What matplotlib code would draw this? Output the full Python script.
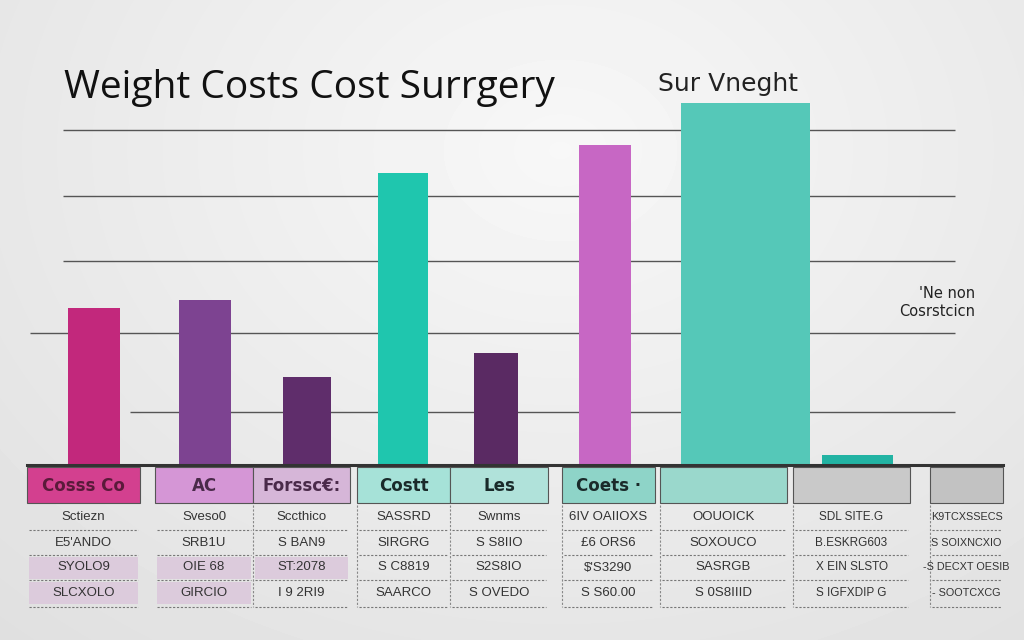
import numpy as np
import matplotlib.pyplot as plt
from matplotlib.patches import Rectangle

# bar data (cost values), category slots and colours
bar_values = [4700, 4950, 2650, 8750, 3350, 9600, 10850, 300]
bar_pos = [94, 205, 307, 403, 496, 605, 745.5, 857.5]
bar_width = [52, 52, 48, 50, 44, 52, 129, 71]
bar_colors = ['#c2287c', '#7d4391', '#5f2d6b', '#1fc6ae', '#5a2a63',
              '#c767c4', '#55c8b8', '#22b3a3']
grid_values = [1590, 3960, 6120, 8070, 10050]

# table contents
headers = ['Cosss Co', 'AC', 'Forssc€:', 'Costt', 'Les', 'Coets ·', '', '', '']
rows = [
    ['Sctiezn', 'Sveso0', 'Sccthico', 'SASSRD', 'Swnms', '6IV OAIIOXS', 'OOUOICK', 'SDL SITE.G', 'K9TCXSSECS'],
    ['E5\'ANDO', 'SRB1U', 'S BAN9', 'SIRGRG', 'S S8IIO', '£6 ORS6', 'SOXOUCO', 'B.ESKRG603', 'S SOIXNCXIO'],
    ['SYOLO9', 'OIE 68', 'ST:2078', 'S C8819', 'S2S8IO', '$\'S3290', 'SASRGB', 'X EIN SLSTO', '-S DECXT OESIB'],
    ['SLCXOLO', 'GIRCIO', 'I 9 2RI9', 'SAARCO', 'S OVEDO', 'S S60.00', 'S 0S8IIID', 'S IGFXDIP G', '- SOOTCXCG'],
]
col_left = [27, 155, 253, 357, 450, 562, 660, 793, 930]
col_right = [140, 253, 350, 450, 548, 655, 787, 910, 1003]
head_colors = ['#d3408f', '#d596d6', '#d6b6d8', '#a6e2d8', '#b0e2da',
               '#8ed4c8', '#9ad8cc', '#c9c9c9', '#c2c2c2']
head_text = ['#5a1a3a', '#4a2a4a', '#4a2a4a', '#1a2a2a', '#1a2a2a',
             '#1a2a2a', '#1a2a2a', '#333333', '#333333']

fig = plt.figure(figsize=(10.24, 6.4), dpi=100)

# background gradient
bg = fig.add_axes([0, 0, 1, 1], zorder=-2)
yy, xx = np.mgrid[0:640, 0:1024]
r = np.sqrt(((xx - 560) / 900) ** 2 + ((yy - 150) / 700) ** 2)
bg.imshow(0.97 - 0.1 * r, cmap='gray', vmin=0, vmax=1, aspect='auto')
bg.axis('off')

# overlay in pixel coordinates for table and texts
ov = fig.add_axes([0, 0, 1, 1], zorder=1)
ov.set_xlim(0, 1024)
ov.set_ylim(640, 0)
ov.axis('off')

# bars
ax = fig.add_axes([0, 175 / 640, 1, 405 / 640], zorder=0)
ax.set_xlim(0, 1024)
ax.set_ylim(0, 12150)
ax.patch.set_alpha(0)
ax.axis('off')
for g in grid_values:
    x0 = 30 if g == 3960 else 63
    if g == 1590:
        x0 = 130
    ax.hlines(g, x0, 955, color='#555555', lw=1, zorder=0)
ax.bar(bar_pos, bar_values, width=bar_width, color=bar_colors, zorder=2)

# title and side texts
ov.text(64, 88, 'Weight Costs Cost Surrgery', fontsize=28, family='Open Sans',
        color='#111111', va='center', ha='left')
ov.text(658, 84, 'Sur Vneght', fontsize=18, family='DejaVu Sans',
        color='#222222', va='center', ha='left')
ov.text(975, 293, "'Ne non", fontsize=10.5, color='#222222', ha='right', va='center')
ov.text(975, 312, 'Cosrstcicn', fontsize=10.5, color='#222222', ha='right', va='center')

# table
ov.plot([27, 1003], [465, 465], color='#333333', lw=2.2)
row_y = [505, 530, 555, 580, 607]
for i in range(len(headers)):
    l, rgt = col_left[i], col_right[i]
    ov.add_patch(Rectangle((l, 467), rgt - l, 36, facecolor=head_colors[i],
                           edgecolor='#555555', lw=0.8))
    ov.text((l + rgt) / 2, 486, headers[i], fontsize=12, fontweight='bold',
            color=head_text[i], ha='center', va='center')
    fs = {7: 8.5, 8: 7.8}.get(i, 9.5)
    for j in range(4):
        if (i == 0 and j >= 2) or (i == 1 and j >= 2) or (i == 2 and j == 2):
            ov.add_patch(Rectangle((l + 2, row_y[j] + 2), rgt - l - 4, 22,
                                   facecolor='#dccbdc', edgecolor='none'))
        ov.text((l + rgt) / 2, (row_y[j] + row_y[j + 1]) / 2, rows[j][i],
                fontsize=fs, family='Liberation Sans', color='#333333',
                ha='center', va='center')
        ov.plot([l + 2, rgt - 2], [row_y[j + 1], row_y[j + 1]], color='#777777',
                lw=0.8, ls=(0, (2, 1.5)))
    if i > 1:
        ov.plot([l, l], [505, 607], color='#888888', lw=0.8, ls=(0, (2, 1.5)))

fig.savefig('out.png', dpi=100)
